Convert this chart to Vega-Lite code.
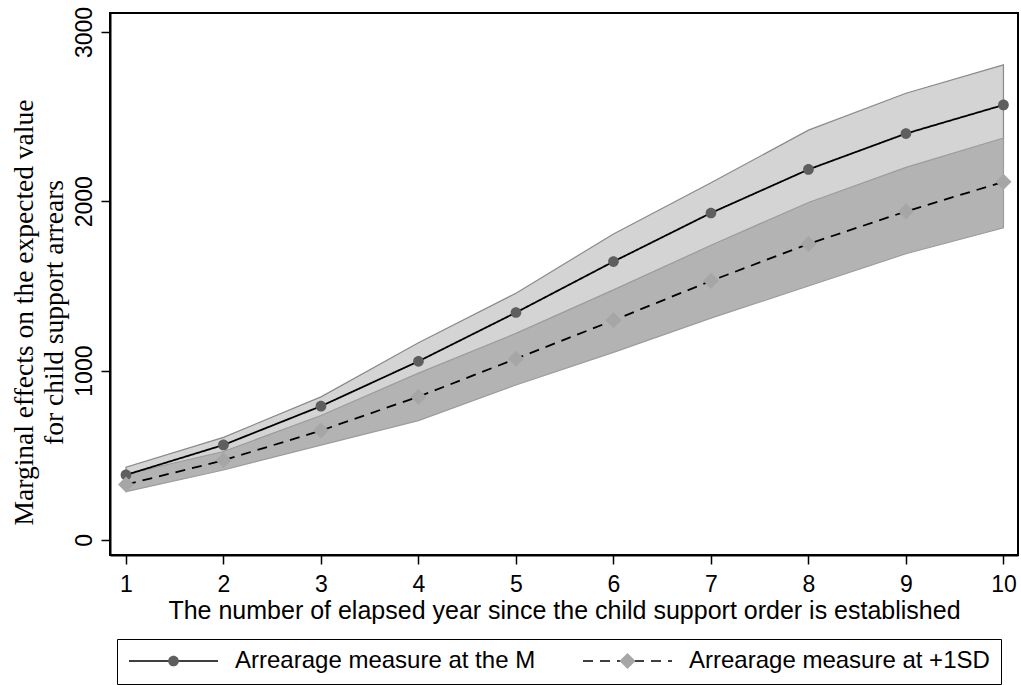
{
  "$schema": "https://vega.github.io/schema/vega-lite/v6.json",
  "width": 908,
  "height": 542,
  "autosize": "none",
  "padding": {"left": 110, "top": 13, "right": 3, "bottom": 130},
  "background": "white",
  "config": {
    "view": {"stroke": "black", "strokeWidth": 2},
    "axis": {"grid": false, "domainColor": "black", "domainWidth": 2, "tickColor": "black", "tickWidth": 1.5, "tickSize": 9, "labelColor": "black", "titleColor": "black"}
  },
  "data": {
    "values": [
      {"year": 1, "series": "Arrearage measure at the M", "est": 384, "lo": 339, "hi": 429},
      {"year": 2, "series": "Arrearage measure at the M", "est": 561, "lo": 516, "hi": 606},
      {"year": 3, "series": "Arrearage measure at the M", "est": 790, "lo": 720, "hi": 845},
      {"year": 4, "series": "Arrearage measure at the M", "est": 1055, "lo": 945, "hi": 1165},
      {"year": 5, "series": "Arrearage measure at the M", "est": 1343, "lo": 1200, "hi": 1457},
      {"year": 6, "series": "Arrearage measure at the M", "est": 1644, "lo": 1440, "hi": 1807},
      {"year": 7, "series": "Arrearage measure at the M", "est": 1931, "lo": 1700, "hi": 2109},
      {"year": 8, "series": "Arrearage measure at the M", "est": 2188, "lo": 1956, "hi": 2420},
      {"year": 9, "series": "Arrearage measure at the M", "est": 2400, "lo": 2162, "hi": 2638},
      {"year": 10, "series": "Arrearage measure at the M", "est": 2569, "lo": 2332, "hi": 2806},
      {"year": 1, "series": "Arrearage measure at +1SD", "est": 327, "lo": 285, "hi": 388},
      {"year": 2, "series": "Arrearage measure at +1SD", "est": 470, "lo": 413, "hi": 522},
      {"year": 3, "series": "Arrearage measure at +1SD", "est": 646, "lo": 560, "hi": 735},
      {"year": 4, "series": "Arrearage measure at +1SD", "est": 846, "lo": 705, "hi": 985},
      {"year": 5, "series": "Arrearage measure at +1SD", "est": 1070, "lo": 915, "hi": 1220},
      {"year": 6, "series": "Arrearage measure at +1SD", "est": 1297, "lo": 1108, "hi": 1477},
      {"year": 7, "series": "Arrearage measure at +1SD", "est": 1530, "lo": 1310, "hi": 1740},
      {"year": 8, "series": "Arrearage measure at +1SD", "est": 1748, "lo": 1500, "hi": 1993},
      {"year": 9, "series": "Arrearage measure at +1SD", "est": 1940, "lo": 1690, "hi": 2200},
      {"year": 10, "series": "Arrearage measure at +1SD", "est": 2115, "lo": 1843, "hi": 2374}
    ]
  },
  "encoding": {
    "x": {
      "field": "year", "type": "quantitative",
      "scale": {"domain": [0.836, 10.149], "nice": false, "zero": false},
      "axis": {
        "values": [1, 2, 3, 4, 5, 6, 7, 8, 9, 10], "format": "d", "labelAngle": 0,
        "labelFont": "Liberation Sans", "labelFontSize": 23, "labelPadding": 9,
        "title": "The number of elapsed year since the child support order is established",
        "titleFont": "Liberation Sans", "titleFontSize": 25, "titleFontWeight": "normal", "titlePadding": 2
      }
    },
    "y": {
      "field": "est", "type": "quantitative",
      "scale": {"domain": [-89, 3112], "nice": false, "zero": false},
      "axis": {
        "values": [0, 1000, 2000, 3000], "format": "d", "labelAngle": -90, "labelAlign": "center", "labelBaseline": "bottom",
        "labelFont": "Liberation Sans", "labelFontSize": 23, "labelPadding": 5,
        "title": ["Marginal effects on the expected value", "for child support arrears"],
        "titleFont": "Liberation Serif", "titleFontSize": 27.5, "titleFontWeight": "normal",
        "titleAngle": -90, "titleX": -100, "titleY": 299, "titleAlign": "center", "titleBaseline": "top", "titleLineHeight": 30
      }
    }
  },
  "layer": [
    {
      "transform": [{"filter": "datum.series === 'Arrearage measure at the M'"}],
      "mark": {"type": "area", "fill": "#d4d4d4", "stroke": "#8a8a8a", "strokeWidth": 1.2},
      "encoding": {"y": {"field": "lo", "type": "quantitative"}, "y2": {"field": "hi"}}
    },
    {
      "transform": [{"filter": "datum.series === 'Arrearage measure at +1SD'"}],
      "mark": {"type": "area", "fill": "#b3b3b3", "stroke": "#9c9c9c", "strokeWidth": 1.2},
      "encoding": {"y": {"field": "lo", "type": "quantitative"}, "y2": {"field": "hi"}}
    },
    {
      "mark": {"type": "line", "color": "black", "strokeWidth": 1.8},
      "encoding": {
        "strokeDash": {
          "field": "series", "type": "nominal", "sort": "descending",
          "scale": {"range": [[1, 0], [10, 7]]},
          "legend": {
            "orient": "none", "legendX": 7, "legendY": 626, "direction": "horizontal", "columns": 2,
            "columnPadding": 46, "padding": 11, "title": null, "strokeColor": "black", "fillColor": "white",
            "labelFont": "Liberation Sans", "labelFontSize": 24, "labelColor": "black", "labelLimit": 0,
            "labelOffset": 16, "clipHeight": 22, "symbolSize": 7921, "symbolStrokeWidth": 1.5,
            "symbolStrokeColor": "black", "symbolType": "stroke"
          }
        }
      }
    },
    {
      "transform": [{"filter": "isValid(datum.est)"}],
      "mark": {"type": "point", "filled": true, "opacity": 1, "size": 7921, "strokeWidth": 0},
      "encoding": {
        "shape": {
          "field": "series", "type": "nominal", "sort": "descending",
          "scale": {"range": ["M-1,0H1M0,-0.12A0.12,0.12 0 1,1 0,0.12A0.12,0.12 0 1,1 0,-0.12Z", "M-1,0H1M0,-0.18L0.18,0L0,0.18L-0.18,0Z"]},
          "legend": {
            "orient": "none", "legendX": 7, "legendY": 626, "direction": "horizontal", "columns": 2,
            "columnPadding": 46, "padding": 11, "title": null,
            "labelFont": "Liberation Sans", "labelFontSize": 24, "labelOpacity": 0, "labelLimit": 0,
            "labelOffset": 16, "clipHeight": 22, "symbolSize": 7921, "symbolStrokeWidth": 1.5,
            "symbolStrokeColor": "transparent"
          }
        },
        "color": {
          "field": "series", "type": "nominal", "sort": "descending",
          "scale": {"range": ["#5e5e5e", "#a6a6a6"]},
          "legend": {
            "orient": "none", "legendX": 7, "legendY": 626, "direction": "horizontal", "columns": 2,
            "columnPadding": 46, "padding": 11, "title": null,
            "labelFont": "Liberation Sans", "labelFontSize": 24, "labelOpacity": 0, "labelLimit": 0,
            "labelOffset": 16, "clipHeight": 22, "symbolSize": 7921, "symbolStrokeWidth": 1.5,
            "symbolStrokeColor": "transparent"
          }
        }
      }
    }
  ]
}
